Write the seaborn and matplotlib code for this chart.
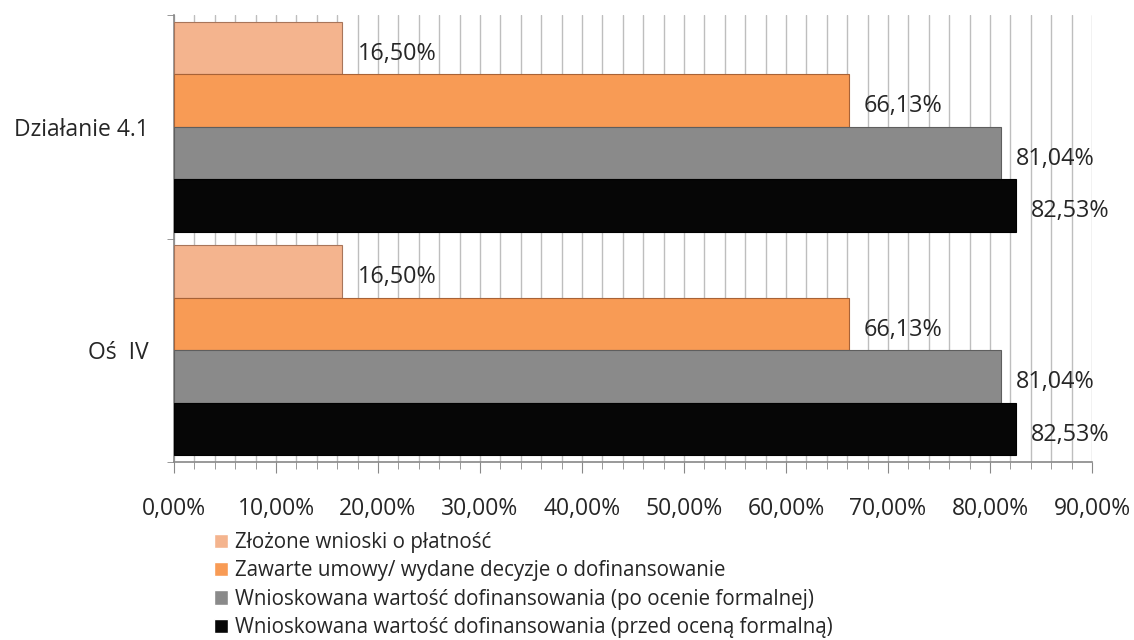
import matplotlib.pyplot as plt
import seaborn as sns
import pandas as pd
import numpy as np
from matplotlib.ticker import MultipleLocator, FixedLocator

categories = ["Działanie 4.1", "Oś  IV"]
series = ["Złożone wnioski o płatność",
          "Zawarte umowy/ wydane decyzje o dofinansowanie",
          "Wnioskowana wartość dofinansowania (po ocenie formalnej)",
          "Wnioskowana wartość dofinansowania (przed oceną formalną)"]
values = {
    series[0]: [16.50, 16.50],
    series[1]: [66.13, 66.13],
    series[2]: [81.04, 81.04],
    series[3]: [82.53, 82.53],
}
xticks = [0, 10, 20, 30, 40, 50, 60, 70, 80, 90]
colors = ["#F4B48E", "#F89B55", "#8A8A8A", "#060606"]
edges = ["#A8755A", "#A86236", "#5E5E5E", "#000000"]

rows = []
for s in series:
    for c, v in zip(categories, values[s]):
        rows.append({"cat": c, "series": s, "value": v})
df = pd.DataFrame(rows)

sns.set_style("white")
plt.rcParams['font.family'] = ['Open Sans', 'DejaVu Sans']

fig = plt.figure(figsize=(11.34, 6.4), dpi=100)
ax = fig.add_axes([174 / 1134, 1 - 462 / 640, (1092 - 174) / 1134, (462 - 15) / 640])

sns.barplot(data=df, y="cat", x="value", hue="series", order=categories, hue_order=series,
            palette=colors, saturation=1, orient="h", width=0.94, gap=0, ax=ax, legend=True)

for cont, ec in zip(ax.containers, edges):
    for p in cont.patches:
        p.set_edgecolor(ec)
        p.set_linewidth(0.8)
        p.set_zorder(3)
        w = p.get_width()
        y = p.get_y() + p.get_height() / 2
        ax.annotate(f"{w:.2f}%".replace(".", ","), (w, y), xytext=(11, -4),
                    textcoords="offset points", va="center", ha="left", fontsize=16.8, zorder=4)

ax.set_xlim(0, 90)
ax.set_ylim(1.5, -0.5)
ax.set_xticks(xticks)
ax.set_xticklabels([f"{t:.2f}%".replace(".", ",") for t in xticks])
ax.xaxis.set_minor_locator(MultipleLocator(2))
ax.grid(True, axis="x", which="both", color="#BEBEBE", linewidth=1, zorder=0)
ax.set_axisbelow(True)
ax.yaxis.set_minor_locator(FixedLocator([-0.5, 0.5, 1.5]))

ax.tick_params(axis="x", which="major", length=8, color="#888888", labelsize=16.5, pad=17, bottom=True)
ax.tick_params(axis="x", which="minor", length=5, color="#888888", bottom=True)
ax.tick_params(axis="y", which="major", length=0, labelsize=16.5, pad=18)
ax.tick_params(axis="y", which="minor", length=5, color="#888888", left=True)

for side in ["top", "right"]:
    ax.spines[side].set_visible(False)
for side in ["left", "bottom"]:
    ax.spines[side].set_color("#888888")
    ax.spines[side].set_linewidth(1.2)
ax.set_xlabel("")
ax.set_ylabel("")

handles, labels = ax.get_legend_handles_labels()
ax.get_legend().remove()
fig.legend(handles, labels, loc="upper left", bbox_to_anchor=(214 / 1134, 1 - 532 / 640),
           frameon=False, fontsize=14.8, handlelength=0.7, handleheight=0.7, handletextpad=0.3,
           labelspacing=0.36, borderpad=0, borderaxespad=0)

fig.savefig("out.png", dpi=100)
